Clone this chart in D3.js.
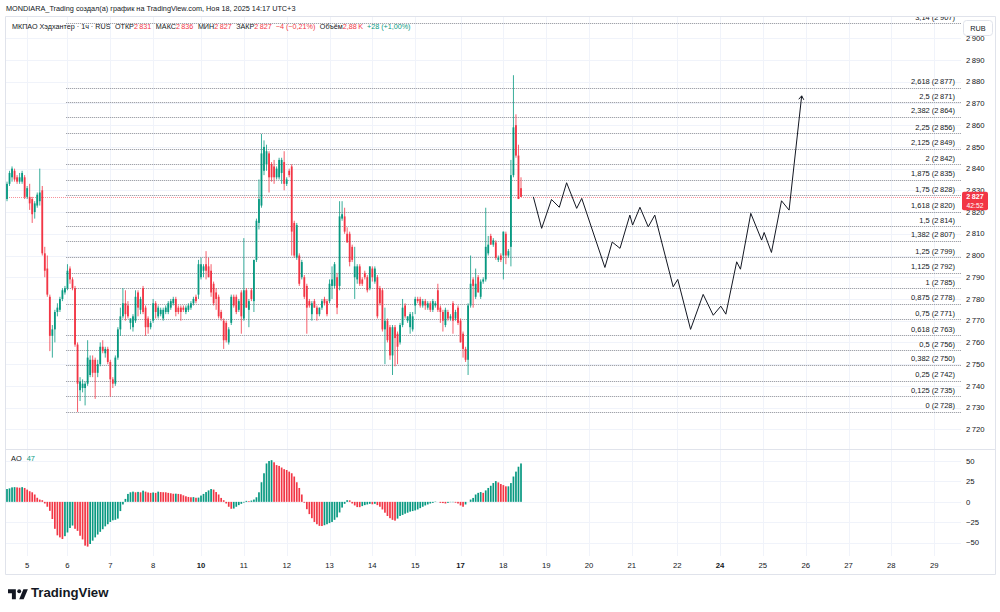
<!DOCTYPE html>
<html>
<head>
<meta charset="utf-8">
<script src="https://cdn.jsdelivr.net/npm/d3@7"></script>
<style>
body { margin: 0; background: #fff; }
svg { display: block; font-family: "Liberation Sans", Arial, sans-serif; }
</style>
</head>
<body>
<svg id="chart" width="1000" height="612"></svg>
<script>
// hourly candles, [open, high, low, close]
const candles = [
  [2826,2834,2825,2833],[2833,2839,2832,2838],[2836,2841,2834,2840],[2839,2840,2834,2835],[2836,2837,2833,2834],
  [2834,2838,2833,2836],[2834,2839,2833,2838],[2836,2837,2826,2827],[2827,2832,2826,2831],[2827,2833,2821,2824],
  [2826,2827,2815,2819],[2820,2825,2817,2824],[2823,2829,2822,2828],[2825,2840,2823,2829],[2830,2832,2800,2801],
  [2801,2804,2790,2793],[2794,2800,2781,2782],[2781,2782,2756,2763],[2763,2768,2753,2766],[2766,2775,2760,2774],
  [2774,2778,2772,2776],[2775,2781,2774,2780],[2780,2785,2779,2784],[2783,2786,2782,2785],[2785,2796,2784,2793],
  [2794,2795,2787,2789],[2789,2790,2784,2785],[2785,2786,2758,2759],[2759,2760,2728,2741],[2738,2744,2733,2742],
  [2739,2743,2737,2741],[2739,2742,2731,2741],[2741,2761,2740,2753],[2745,2754,2744,2752],[2752,2754,2744,2746],
  [2752,2753,2734,2746],[2746,2752,2744,2750],[2750,2760,2749,2758],[2758,2761,2755,2756],[2755,2758,2753,2757],
  [2757,2758,2750,2751],[2751,2752,2735,2743],[2743,2744,2739,2741],[2741,2754,2740,2753],[2753,2767,2752,2766],
  [2766,2776,2763,2772],[2772,2785,2771,2778],[2778,2784,2770,2773],[2777,2779,2771,2772],[2769,2771,2766,2771],
  [2767,2773,2765,2772],[2770,2784,2769,2781],[2783,2784,2772,2776],[2775,2781,2773,2780],[2785,2786,2773,2774],
  [2776,2777,2763,2767],[2771,2772,2764,2767],[2767,2770,2766,2769],[2770,2780,2769,2778],[2778,2779,2771,2774],
  [2772,2777,2771,2776],[2773,2776,2772,2775],[2771,2776,2770,2775],[2774,2777,2773,2776],[2774,2779,2773,2778],
  [2776,2780,2775,2779],[2778,2781,2777,2780],[2780,2781,2772,2774],[2776,2777,2773,2774],[2776,2777,2770,2774],
  [2776,2777,2774,2775],[2774,2777,2773,2776],[2775,2778,2774,2777],[2776,2779,2775,2778],[2778,2781,2777,2780],
  [2781,2782,2778,2779],[2782,2798,2780,2796],[2790,2799,2789,2796],[2793,2796,2790,2795],[2796,2802,2789,2793],
  [2795,2799,2790,2790],[2793,2796,2781,2783],[2787,2788,2777,2778],[2783,2785,2775,2780],[2781,2782,2771,2772],
  [2774,2775,2770,2771],[2770,2771,2757,2761],[2769,2770,2760,2761],[2760,2767,2759,2766],[2769,2782,2768,2781],
  [2781,2782,2776,2777],[2781,2782,2773,2774],[2775,2780,2774,2779],[2783,2784,2764,2772],[2771,2808,2770,2784],
  [2784,2785,2776,2776],[2775,2780,2767,2779],[2784,2785,2779,2780],[2779,2798,2774,2798],[2798,2817,2797,2816],
  [2815,2835,2812,2826],[2823,2856,2822,2847],[2839,2853,2837,2850],[2842,2851,2839,2848],[2847,2848,2829,2836],
  [2842,2843,2834,2836],[2841,2844,2833,2836],[2836,2841,2835,2840],[2836,2845,2835,2844],[2838,2845,2833,2844],
  [2843,2848,2830,2833],[2833,2836,2832,2835],[2839,2840,2836,2837],[2841,2842,2800,2811],[2815,2816,2799,2800],
  [2799,2815,2798,2814],[2800,2801,2786,2787],[2790,2798,2789,2797],[2790,2791,2780,2781],[2786,2787,2764,2776],
  [2779,2780,2776,2777],[2773,2779,2770,2778],[2779,2780,2776,2776],[2776,2777,2770,2773],[2773,2776,2772,2776],
  [2776,2780,2775,2779],[2780,2781,2777,2778],[2779,2780,2772,2773],[2779,2789,2778,2787],[2786,2795,2780,2789],
  [2786,2797,2785,2796],[2790,2792,2773,2776],[2786,2825,2784,2818],[2817,2825,2816,2819],[2818,2822,2810,2811],
  [2810,2813,2806,2806],[2810,2811,2795,2797],[2804,2805,2797,2798],[2790,2804,2780,2795],[2789,2796,2787,2795],
  [2795,2796,2786,2787],[2789,2790,2786,2787],[2792,2793,2789,2790],[2790,2791,2783,2784],[2785,2795,2784,2795],
  [2794,2795,2788,2790],[2788,2795,2787,2794],[2790,2791,2771,2772],[2785,2786,2777,2778],[2784,2785,2765,2766],
  [2766,2776,2750,2770],[2770,2771,2760,2761],[2767,2768,2752,2754],[2754,2768,2745,2767],[2767,2768,2749,2762],
  [2764,2765,2750,2758],[2760,2769,2759,2768],[2768,2780,2767,2776],[2777,2778,2771,2772],[2770,2772,2769,2772],
  [2767,2774,2764,2773],[2766,2774,2765,2772],[2777,2781,2773,2780],[2780,2781,2778,2779],[2780,2781,2776,2777],
  [2777,2780,2776,2779],[2779,2780,2775,2777],[2776,2779,2775,2778],[2778,2779,2774,2775],[2775,2780,2774,2779],
  [2777,2779,2776,2778],[2784,2787,2774,2775],[2776,2777,2769,2774],[2774,2775,2765,2770],[2768,2776,2767,2775],
  [2774,2775,2770,2771],[2771,2773,2770,2772],[2778,2779,2764,2770],[2771,2775,2770,2774],[2776,2777,2768,2769],
  [2770,2771,2760,2760],[2764,2765,2753,2757],[2757,2758,2751,2752],[2752,2778,2745,2777],[2777,2800,2776,2787],
  [2789,2790,2776,2786],[2781,2794,2780,2787],[2790,2791,2783,2783],[2781,2789,2780,2788],[2788,2790,2787,2789],
  [2789,2822,2788,2804],[2801,2809,2800,2805],[2809,2810,2805,2805],[2805,2808,2804,2807],[2806,2807,2798,2799],
  [2798,2800,2797,2799],[2800,2801,2797,2798],[2800,2811,2789,2811],[2810,2811,2796,2800],[2800,2803,2799,2802],
  [2804,2844,2795,2837],[2837,2883,2836,2859],[2860,2865,2845,2846],[2846,2851,2826,2826],[2831,2836,2827,2827]
];

// Awesome Oscillator, one value per candle (aligned to the last candle)
const aoValues = [15.7,16.5,17.7,18,17.7,17.3,18,17,15,13,11.7,9,5,2.8,2,-2,-6,-11,-21,-33,-41,-43.5,-45.5,-42,-37.5,
  -32,-29,-33,-35.5,-41.5,-46,-53.6,-54.8,-51.6,-47.5,-43.5,-40,-36.7,-33.5,-30,-27.4,-24.6,-22.6,-22,-20.5,-11.3,-3.2,
  3.6,9.7,11.7,12.5,11.7,12.2,11.7,13.7,12.5,11.5,11,11.5,11,12.5,12,11.8,11.7,11,10.5,9.9,10,9.7,9.3,8,6.8,6,5.6,5.8,
  5,5.2,7.7,9.7,12,14,15.7,15,12,9,4.8,2,-2,-6,-8.5,-8.2,-6,-4,-2.4,-0.8,1.2,0.8,1.6,2.8,5.6,11.7,24,35,47,50,51,48.4,
  45,44,42,40,39,37,35,31,24,17,9,-1,-9,-15,-20,-24.6,-27.4,-29.4,-29.6,-28.6,-27.4,-26,-24.6,-22,-19,-13,-7,-2.4,2,
  1.8,-2,-4.4,-6.4,-6.5,-5.2,-4,-3.2,-2.4,-3,-2.4,-4,-6,-9.3,-13.3,-17.3,-20,-22,-23,-20.5,-17.3,-16,-14.5,-13.3,-12,
  -11.3,-10.5,-9.3,-7.7,-6,-4.4,-3.2,-2,-1.2,0.4,0,-1.2,-1.5,-2,-1.2,-0.4,-0.4,-1,-2,-4.4,-6,-3.2,0,2.8,4.8,9,11,12,
  11,14,17,19.7,23,25.4,23.8,21.8,20.5,19,19,23,31,37,43,47];

// day labels and the bar index where each day starts (future days included)
const dayIdx = [8, 24, 41, 58, 77, 94, 111, 128, 145, 162, 180, 197, 214, 231, 248, 266, 283, 300, 317, 334, 351, 368];
const dayLabels = ["5","6","7","8","10","11","12","13","14","15","17","18","19","20","21","22","24","25","26","27","28","29"];
const boldDays = ["10", "17", "24"];

const priceTicks = [2720,2730,2740,2750,2760,2770,2780,2790,2800,2810,2820,2830,2840,2850,2860,2870,2880,2890,2900];
const aoTicks = [50, 25, 0, -25, -50];

// fib extension drawing
const fibRatios = [0,0.125,0.25,0.382,0.5,0.618,0.75,0.875,1,1.125,1.25,1.382,1.5,1.618,1.75,1.875,2,2.125,2.25,2.382,2.5,2.618,3.14];
const fibPrices = [2728,2735,2742,2750,2756,2763,2771,2778,2785,2792,2799,2807,2814,2820,2828,2835,2842,2849,2856,2864,2871,2877,2907];
const fibStartIdx = 23.5;

// hand drawn projection path (bar index, price)
const projIdx = [208.9,212.2,216.1,219.2,222.1,226.1,228.1,237.3,240.2,243.3,247.2,248.3,251.2,254.5,257.1,264.4,266.2,
  271.3,276.3,280.3,283.3,285.3,289.6,291.1,295.2,299.5,300.5,303.4,307.4,310.4,315.4];
const projPrice = [2827,2812.5,2825.8,2822.2,2833.5,2821.7,2826.3,2794.5,2806.2,2803.3,2818.6,2814,2822.2,2813.2,2818.6,
  2785.6,2789,2766,2782.1,2772.5,2776.7,2773,2797.1,2793.7,2819.4,2807.1,2810.6,2801.4,2825.2,2820.9,2873.5];

const ohlcNames = ["ОТКР", "МАКС", "МИН", "ЗАКР"];
const ohlcValues = [2831, 2836, 2827, 2827];
const lastPrice = 2827;
const timeLeft = "42:52";

const upColor = "#089981";
const downColor = "#f23645";
const textColor = "#131722";
const gridColor = "#f0f3fa";

const loc = d3.formatLocale({decimal: ",", thousands: "\u2009", grouping: [3], currency: ["", ""], minus: "\u2212"});
const fmtPrice = loc.format(",d");
const fmtRatio = function(r){ return String(r).replace(".", ","); };

const svg = d3.select("#chart");

// scales
const x = d3.scaleLinear().domain([0, candles.length - 1]).range([7, 521]);
const y = d3.scaleLinear().domain([2720, 2890]).range([429.3, 60]);
const yAO = d3.scaleLinear().domain([-50, 50]).range([542.7, 461]);

const paneLeft = 5, paneRight = 961, paneTop = 16, paneSplit = 449, aoBottom = 556;

function px(v){ return Math.round(v) + 0.5; } // crisp 1px lines

// header text
svg.append("text")
  .attr("x", 6).attr("y", 11)
  .attr("font-size", 7.3).attr("fill", textColor)
  .text("MONDIARA_Trading создал(а) график на TradingView.com, Ноя 18, 2025 14:17 UTC+3");

// clip for main pane
svg.append("clipPath").attr("id", "mainClip")
  .append("rect").attr("x", paneLeft).attr("y", paneTop).attr("width", paneRight - paneLeft).attr("height", paneSplit - paneTop);

// vertical grid (both panes)
svg.append("g").selectAll("line")
  .data(dayIdx).enter().append("line")
  .attr("x1", function(d){ return px(x(d)); })
  .attr("x2", function(d){ return px(x(d)); })
  .attr("y1", paneTop).attr("y2", aoBottom)
  .attr("stroke", gridColor);

// horizontal price grid
var main_g = svg.append("g").attr("clip-path", "url(#mainClip)");
main_g.append("g").selectAll("line")
  .data(priceTicks).enter().append("line")
  .attr("x1", paneLeft).attr("x2", paneRight)
  .attr("y1", function(d){ return px(y(d)); })
  .attr("y2", function(d){ return px(y(d)); })
  .attr("stroke", gridColor);

// fib lines and labels
var fibY = function(i){ return y(fibPrices[0] + fibRatios[i] * (fibPrices[8] - fibPrices[0])); };
main_g.append("g").selectAll("line")
  .data(fibRatios).enter().append("line")
  .attr("x1", x(fibStartIdx)).attr("x2", paneRight)
  .attr("y1", function(d, i){ return px(fibY(i)); })
  .attr("y2", function(d, i){ return px(fibY(i)); })
  .attr("stroke", "#8a8d96")
  .attr("stroke-dasharray", "1,1");

main_g.append("g").selectAll("text")
  .data(fibRatios).enter().append("text")
  .attr("x", 955)
  .attr("y", function(d, i){ return fibY(i) - 3.5; })
  .attr("text-anchor", "end")
  .attr("font-size", 7.5)
  .attr("fill", textColor)
  .text(function(d, i){ return fmtRatio(d) + " (" + fmtPrice(fibPrices[i]) + ")"; });

// last price line
main_g.append("line")
  .attr("x1", paneLeft).attr("x2", paneRight)
  .attr("y1", px(y(lastPrice))).attr("y2", px(y(lastPrice)))
  .attr("stroke", downColor).attr("stroke-opacity", 0.55)
  .attr("stroke-dasharray", "1,1");

// candles
var candle_g = main_g.append("g");
candle_g.selectAll("line")
  .data(candles).enter().append("line")
  .attr("x1", function(d, i){ return x(i); })
  .attr("x2", function(d, i){ return x(i); })
  .attr("y1", function(d){ return y(d[1]); })
  .attr("y2", function(d){ return y(d[2]); })
  .attr("stroke", function(d){ return d[3] >= d[0] ? upColor : downColor; })
  .attr("stroke-width", 0.8);

candle_g.selectAll("rect")
  .data(candles).enter().append("rect")
  .attr("x", function(d, i){ return x(i) - 0.9; })
  .attr("width", 1.8)
  .attr("y", function(d){ return y(Math.max(d[0], d[3])); })
  .attr("height", function(d){ return Math.max(1, Math.abs(y(d[0]) - y(d[3]))); })
  .attr("fill", function(d){ return d[3] >= d[0] ? upColor : downColor; });

// projection path
var projPoints = projIdx.map(function(d, i){ return [x(d), y(projPrice[i])]; });
main_g.append("path")
  .attr("d", d3.line()(projPoints))
  .attr("fill", "none")
  .attr("stroke", textColor)
  .attr("stroke-width", 1);

var tip = projPoints[projPoints.length - 1];
var prev = projPoints[projPoints.length - 2];
var ang = Math.atan2(prev[1] - tip[1], prev[0] - tip[0]);
[-0.6, 0.6].forEach(function(a){
  main_g.append("line")
    .attr("x1", tip[0]).attr("y1", tip[1])
    .attr("x2", tip[0] + 4.5 * Math.cos(ang + a))
    .attr("y2", tip[1] + 4.5 * Math.sin(ang + a))
    .attr("stroke", textColor).attr("stroke-width", 1);
});

// legend line
var legend = svg.append("text").attr("x", 12).attr("y", 29).attr("font-size", 7.2).attr("fill", textColor);
legend.append("tspan").text("МКПАО Хэдхантер · 1ч · RUS");
ohlcNames.forEach(function(n, i){
  legend.append("tspan").attr("dx", 4.5).text(n);
  legend.append("tspan").attr("fill", downColor).text(fmtPrice(ohlcValues[i]));
});
legend.append("tspan").attr("dx", 4).attr("fill", downColor)
  .text(loc.format("+d")(ohlcValues[3] - ohlcValues[0]) + " (" + loc.format("+.2f")(-0.21) + "%)");
legend.append("tspan").attr("dx", 4.5).text("Объём");
legend.append("tspan").attr("fill", downColor).text("2,88\u2009K");
legend.append("tspan").attr("dx", 4).attr("fill", upColor).text("+28 (+1,00%)");

// price axis labels
svg.append("g").selectAll("text")
  .data(priceTicks).enter().append("text")
  .attr("x", 966)
  .attr("y", function(d){ return y(d); })
  .attr("dy", "0.35em")
  .attr("font-size", 7.7)
  .attr("fill", textColor)
  .text(function(d){ return fmtPrice(d); });

// currency box
svg.append("rect")
  .attr("x", 963.5).attr("y", 20.5).attr("width", 29).attr("height", 15).attr("rx", 3)
  .attr("fill", "#fff").attr("stroke", "#e0e3eb");
svg.append("text")
  .attr("x", 978).attr("y", 30.7).attr("text-anchor", "middle")
  .attr("font-size", 7.3).attr("fill", textColor).text("RUB");

// last price tag (covers the nearby axis labels, as in the original)
var tagY = y(lastPrice);
var tag_g = svg.append("g");
tag_g.append("rect")
  .attr("x", 962).attr("y", tagY - 5).attr("width", 26).attr("height", 18.5).attr("rx", 2)
  .attr("fill", downColor);
tag_g.append("text")
  .attr("x", 975).attr("y", tagY + 2.3).attr("text-anchor", "middle")
  .attr("font-size", 7.2).attr("font-weight", "bold").attr("fill", "#fff")
  .text(fmtPrice(lastPrice));
tag_g.append("text")
  .attr("x", 975).attr("y", tagY + 11.4).attr("text-anchor", "middle")
  .attr("font-size", 6.8).attr("fill", "#fff")
  .text(timeLeft);

// pane separator
svg.append("line")
  .attr("x1", paneLeft).attr("x2", 995)
  .attr("y1", px(paneSplit)).attr("y2", px(paneSplit))
  .attr("stroke", "#e0e3eb");

// AO pane
svg.append("g").selectAll("line")
  .data(aoTicks).enter().append("line")
  .attr("x1", paneLeft).attr("x2", paneRight)
  .attr("y1", function(d){ return px(yAO(d)); })
  .attr("y2", function(d){ return px(yAO(d)); })
  .attr("stroke", gridColor);

var aoOffset = candles.length - aoValues.length;
svg.append("g").selectAll("rect")
  .data(aoValues).enter().append("rect")
  .attr("x", function(d, i){ return x(i + aoOffset) - 0.85; })
  .attr("width", 1.7)
  .attr("y", function(d){ return Math.min(yAO(d), yAO(0)); })
  .attr("height", function(d){ return Math.abs(yAO(d) - yAO(0)); })
  .attr("fill", function(d, i){ return (i > 0 && d < aoValues[i - 1]) ? downColor : upColor; });

svg.append("g").selectAll("text")
  .data(aoTicks).enter().append("text")
  .attr("x", 966)
  .attr("y", function(d){ return yAO(d); })
  .attr("dy", "0.35em")
  .attr("font-size", 7.7)
  .attr("fill", textColor)
  .text(function(d){ return loc.format("d")(d); });

var aoLegend = svg.append("text").attr("x", 11).attr("y", 461).attr("font-size", 7.4).attr("fill", textColor);
aoLegend.append("tspan").text("AO");
aoLegend.append("tspan").attr("dx", 5).attr("fill", upColor).text(Math.round(aoValues[aoValues.length - 1]));

// time axis
svg.append("g").selectAll("text")
  .data(dayIdx).enter().append("text")
  .attr("x", function(d){ return x(d); })
  .attr("y", 565)
  .attr("dy", "0.35em")
  .attr("text-anchor", "middle")
  .attr("font-size", 7.7)
  .attr("font-weight", function(d, i){ return boldDays.indexOf(dayLabels[i]) >= 0 ? "bold" : "normal"; })
  .attr("fill", textColor)
  .text(function(d, i){ return dayLabels[i]; });

// outer frame
svg.append("path")
  .attr("d", "M5.5,16.5H995.5V574.5H5.5Z")
  .attr("fill", "none")
  .attr("stroke", "#e0e3eb");

// TradingView logo
var logo = svg.append("g").attr("transform", "translate(8,587) scale(0.56)").attr("fill", textColor);
logo.append("path").attr("d", "M14 22H7V11H0V4h14v18z");
logo.append("circle").attr("cx", 20).attr("cy", 7.5).attr("r", 3.5);
logo.append("path").attr("d", "M28 22h-8l7.5-18h8L28 22z");
svg.append("text")
  .attr("x", 31).attr("y", 597)
  .attr("font-size", 13.2).attr("font-weight", 600)
  .attr("fill", textColor)
  .text("TradingView");
</script>
</body>
</html>
